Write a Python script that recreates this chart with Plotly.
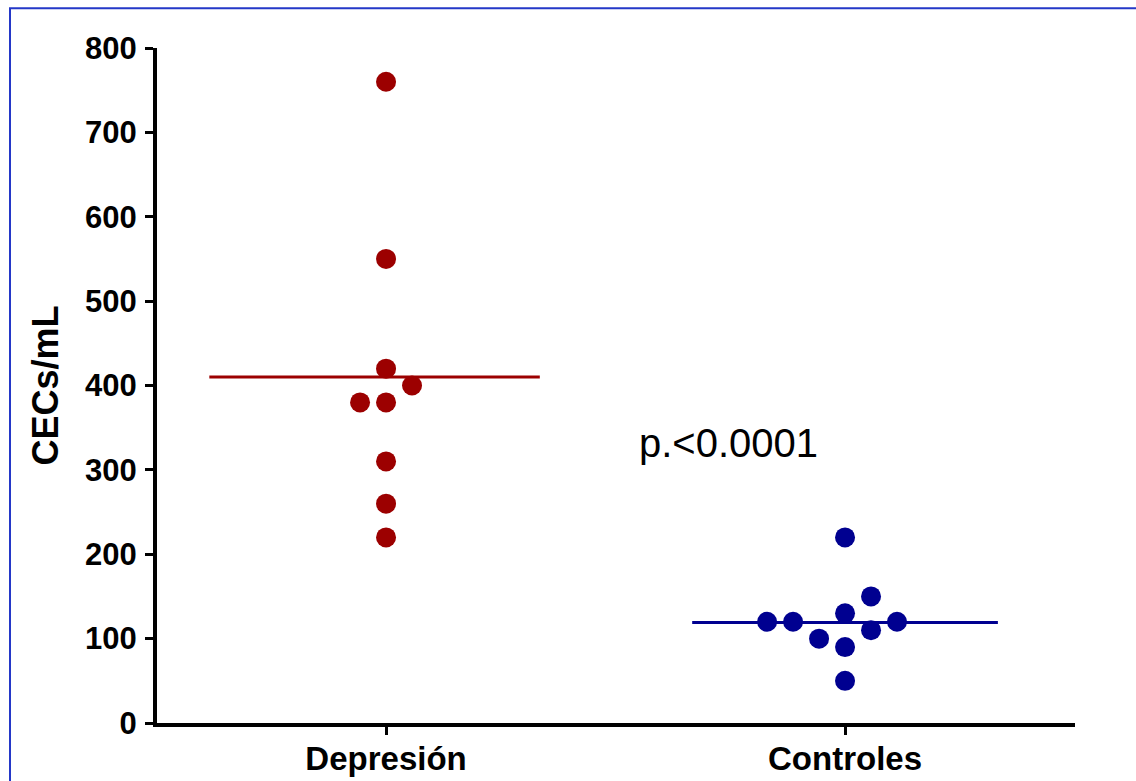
import plotly.graph_objects as go

categories = ["Depresión", "Controles"]
dep_values = [760, 550, 420, 400, 380, 380, 310, 260, 220]
dep_offsets = [0, 0, 0, 1, -1, 0, 0, 0, 0]
ctl_values = [220, 150, 130, 120, 120, 120, 110, 100, 90, 50]
ctl_offsets = [0, 1, 0, -3, -2, 2, 1, -1, 0, 0]
means = [410, 119]
yticks = [0, 100, 200, 300, 400, 500, 600, 700, 800]
annotation_text = "p.<0.0001"

colors = ["#9C0000", "#000090"]
step = 0.0566

fig = go.Figure()
for i, (vals, offs) in enumerate([(dep_values, dep_offsets), (ctl_values, ctl_offsets)]):
    fig.add_trace(go.Scatter(
        x=[i + o * step for o in offs], y=vals, mode="markers",
        marker=dict(size=20, color=colors[i], line=dict(width=0)),
        showlegend=False, hoverinfo="y"))

spans = [(-0.385, 0.335), (-0.333, 0.333)]
for i, m in enumerate(means):
    fig.add_trace(go.Scatter(
        x=[i + spans[i][0], i + spans[i][1]], y=[m, m], mode="lines",
        line=dict(color=colors[i], width=3), showlegend=False, hoverinfo="skip"))

fig.add_annotation(x=0.745, y=332, text=annotation_text, showarrow=False,
                   font=dict(family="Liberation Sans, Arial", size=40, color="black"),
                   xanchor="center", yanchor="middle")

L = 157
fig.add_shape(type="rect", xref="paper", yref="paper",
              x0=(10 - L) / (1136 - L - 61), x1=1.08, y0=-0.12, y1=1.059,
              line=dict(color="#2438C8", width=2), fillcolor="rgba(0,0,0,0)", layer="below")

fig.update_layout(
    width=1136, height=781,
    margin=dict(l=L, r=61, t=48, b=58, autoexpand=False),
    paper_bgcolor="white", plot_bgcolor="white",
    font=dict(family="Liberation Sans, Arial", color="black"),
    xaxis=dict(range=[-0.499, 1.501], tickvals=[0, 1], ticktext=categories, automargin=False,
               showline=True, linewidth=4, linecolor="black", ticks="outside",
               ticklen=8, tickwidth=3, tickcolor="black", showgrid=False, zeroline=False,
               ticklabelstandoff=-5,
               tickfont=dict(size=33, family="Liberation Sans, Arial", weight="bold")),
    yaxis=dict(range=[0, 800], tickvals=yticks, showline=True, linewidth=4, linecolor="black",
               ticks="outside", ticklen=8, tickwidth=3, tickcolor="black", automargin=False,
               showgrid=False, zeroline=False, ticklabelstandoff=2,
               tickfont=dict(size=31, family="Liberation Sans, Arial", weight="bold"),
               title=dict(text="CECs/mL", standoff=16,
                          font=dict(size=36, family="Liberation Sans, Arial", weight="bold"))),
)

page_js = (
    "var h=document.documentElement,b=document.body;"
    "h.style.margin='0';h.style.padding='0';h.style.overflow='hidden';h.style.height='781px';"
    "b.style.margin='0';b.style.padding='0';b.style.overflow='hidden';b.style.height='781px';"
)
fig.write_html("out.html", config={"displayModeBar": False}, post_script=page_js)
